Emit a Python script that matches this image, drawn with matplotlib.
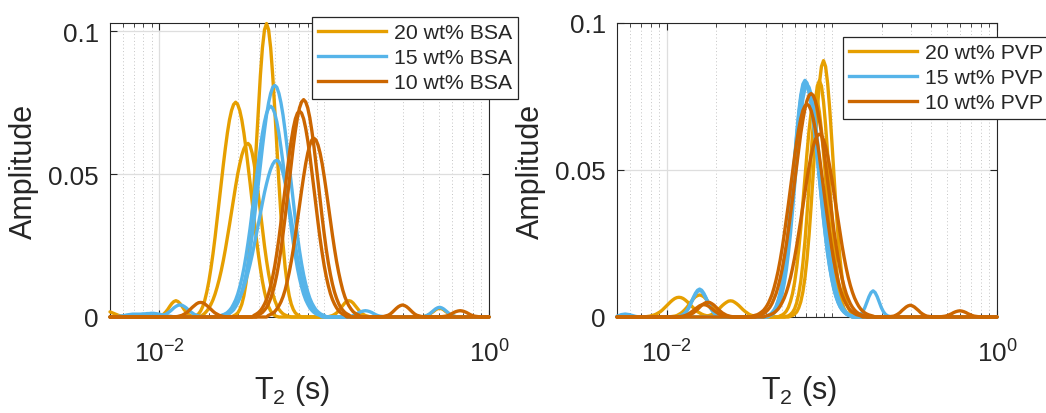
import numpy as np
import matplotlib
matplotlib.use("Agg")
import matplotlib.pyplot as plt
from matplotlib.lines import Line2D
from matplotlib.ticker import LogLocator, NullFormatter, FixedLocator

plt.rcParams['font.family'] = ['Liberation Sans', 'DejaVu Sans']
plt.rcParams['mathtext.fontset'] = 'custom'
plt.rcParams['mathtext.rm'] = 'Liberation Sans'
plt.rcParams['mathtext.it'] = 'Liberation Sans:italic'
plt.rcParams['mathtext.bf'] = 'Liberation Sans:bold'

# ---------------- data ----------------
N_POINTS = 185
T2 = np.logspace(-2.3, 0, N_POINTS)          # T2 grid (s)

# each curve: list of (start index on T2 grid, amplitudes); elsewhere 0
bsa20_1 = [(0, [0.0018, 0.0015, 0.0012, 0.0009, 0.0006, 0.0004, 0.0002, 0.0001]),
           (60, [0.0004, 0.0008, 0.0014, 0.0026, 0.0045, 0.0074, 0.0117, 0.0176, 0.0255, 0.0354, 0.0470,
                 0.0596, 0.0725, 0.0844, 0.0941, 0.1004, 0.1026, 0.1004, 0.0941, 0.0844, 0.0725, 0.0596,
                 0.0470, 0.0354, 0.0255, 0.0176, 0.0117, 0.0074, 0.0045, 0.0026, 0.0014, 0.0008, 0.0004]),
           (152, [0.0001, 0.0003, 0.0005, 0.0009, 0.0014, 0.0019, 0.0025, 0.0029, 0.0030, 0.0029, 0.0025,
                  0.0019, 0.0014, 0.0009, 0.0005, 0.0003, 0.0001])]
bsa20_2 = [(23, [0.0001, 0.0003, 0.0005, 0.0010, 0.0017, 0.0026, 0.0037, 0.0047, 0.0054, 0.0057, 0.0054,
                 0.0047, 0.0037, 0.0026, 0.0017, 0.0010, 0.0005, 0.0003, 0.0001]),
           (41, [0.0002, 0.0005, 0.0011, 0.0021, 0.0036, 0.0058, 0.0088, 0.0125, 0.0170, 0.0221, 0.0278,
                 0.0340, 0.0404, 0.0469, 0.0531, 0.0590, 0.0644, 0.0689, 0.0722, 0.0743, 0.0751, 0.0743,
                 0.0722, 0.0689, 0.0644, 0.0590, 0.0531, 0.0469, 0.0404, 0.0340, 0.0278, 0.0221, 0.0170,
                 0.0125, 0.0088, 0.0058, 0.0036, 0.0021, 0.0011, 0.0005, 0.0002])]
bsa20_3 = [(44, [0.0003, 0.0007, 0.0013, 0.0021, 0.0031, 0.0044, 0.0060, 0.0080, 0.0104, 0.0131, 0.0162,
                 0.0197, 0.0236, 0.0278, 0.0322, 0.0368, 0.0414, 0.0458, 0.0500, 0.0535, 0.0566, 0.0588,
                 0.0602, 0.0607, 0.0599, 0.0574, 0.0535, 0.0486, 0.0429, 0.0368, 0.0307, 0.0249, 0.0197,
                 0.0151, 0.0114, 0.0082, 0.0058, 0.0040, 0.0027, 0.0018, 0.0011, 0.0007, 0.0004, 0.0002]),
           (106, [0.0001, 0.0003, 0.0005, 0.0009, 0.0014, 0.0022, 0.0031, 0.0040, 0.0049, 0.0055, 0.0057,
                  0.0055, 0.0049, 0.0040, 0.0031, 0.0022, 0.0014, 0.0009, 0.0005, 0.0003, 0.0001])]

bsa15_1 = [(23, [0.0001, 0.0002, 0.0003, 0.0006, 0.0009, 0.0014, 0.0019, 0.0025, 0.0032, 0.0037, 0.0041,
                 0.0042, 0.0041, 0.0037, 0.0032, 0.0025, 0.0019, 0.0014, 0.0009, 0.0006, 0.0003, 0.0002,
                 0.0001]),
           (56, [0.0006, 0.0008, 0.0012, 0.0018, 0.0025, 0.0036, 0.0049, 0.0066, 0.0088, 0.0116, 0.0148,
                 0.0187, 0.0232, 0.0284, 0.0341, 0.0402, 0.0466, 0.0530, 0.0593, 0.0652, 0.0706, 0.0749,
                 0.0782, 0.0803, 0.0810, 0.0803, 0.0782, 0.0749, 0.0706, 0.0652, 0.0593, 0.0530, 0.0466,
                 0.0402, 0.0341, 0.0284, 0.0232, 0.0187, 0.0148, 0.0116, 0.0088, 0.0066, 0.0049, 0.0036,
                 0.0025, 0.0018, 0.0012, 0.0008, 0.0006])]
bsa15_2 = [(4, [0.0002, 0.0003, 0.0004, 0.0005, 0.0007, 0.0008, 0.0009, 0.0010, 0.0010, 0.0010, 0.0010,
                0.0010, 0.0011, 0.0011, 0.0012, 0.0012, 0.0013, 0.0013, 0.0012, 0.0011, 0.0010, 0.0008,
                0.0007, 0.0005, 0.0004, 0.0003, 0.0002]),
           (54, [0.0005, 0.0008, 0.0011, 0.0016, 0.0023, 0.0032, 0.0045, 0.0060, 0.0080, 0.0105, 0.0135,
                 0.0170, 0.0212, 0.0259, 0.0310, 0.0366, 0.0424, 0.0482, 0.0539, 0.0593, 0.0642, 0.0682,
                 0.0712, 0.0730, 0.0737, 0.0730, 0.0712, 0.0682, 0.0642, 0.0593, 0.0539, 0.0482, 0.0424,
                 0.0366, 0.0310, 0.0259, 0.0212, 0.0170, 0.0135, 0.0105, 0.0080, 0.0060, 0.0045, 0.0032,
                 0.0023, 0.0016, 0.0011, 0.0008, 0.0005]),
           (115, [0.0001, 0.0002, 0.0003, 0.0005, 0.0008, 0.0012, 0.0016, 0.0019, 0.0021, 0.0022, 0.0021,
                  0.0019, 0.0016, 0.0012, 0.0008, 0.0005, 0.0003, 0.0002, 0.0001])]
bsa15_3 = [(54, [0.0005, 0.0007, 0.0010, 0.0013, 0.0018, 0.0024, 0.0032, 0.0041, 0.0053, 0.0067, 0.0085,
                 0.0105, 0.0128, 0.0155, 0.0184, 0.0216, 0.0251, 0.0287, 0.0325, 0.0363, 0.0399, 0.0435,
                 0.0466, 0.0494, 0.0517, 0.0534, 0.0545, 0.0548, 0.0543, 0.0527, 0.0503, 0.0470, 0.0431,
                 0.0387, 0.0342, 0.0296, 0.0251, 0.0209, 0.0170, 0.0136, 0.0107, 0.0083, 0.0062, 0.0047,
                 0.0034, 0.0024, 0.0017, 0.0012, 0.0008, 0.0005]),
           (152, [0.0001, 0.0003, 0.0006, 0.0010, 0.0016, 0.0022, 0.0028, 0.0032, 0.0034, 0.0032, 0.0028,
                  0.0022, 0.0016, 0.0010, 0.0006, 0.0003, 0.0001])]

bsa10_1 = [(32, [0.0001, 0.0002, 0.0004, 0.0006, 0.0010, 0.0014, 0.0020, 0.0027, 0.0034, 0.0040, 0.0046,
                 0.0050, 0.0051, 0.0050, 0.0046, 0.0040, 0.0034, 0.0027, 0.0020, 0.0014, 0.0010, 0.0006,
                 0.0004, 0.0002, 0.0001]),
           (72, [0.0007, 0.0011, 0.0016, 0.0024, 0.0033, 0.0047, 0.0065, 0.0087, 0.0115, 0.0149, 0.0189,
                 0.0236, 0.0290, 0.0348, 0.0410, 0.0474, 0.0537, 0.0597, 0.0651, 0.0697, 0.0731, 0.0752,
                 0.0760, 0.0752, 0.0731, 0.0697, 0.0651, 0.0597, 0.0537, 0.0474, 0.0410, 0.0348, 0.0290,
                 0.0236, 0.0189, 0.0149, 0.0115, 0.0087, 0.0065, 0.0047, 0.0033, 0.0024, 0.0016, 0.0011,
                 0.0007])]
bsa10_2 = [(70, [0.0006, 0.0010, 0.0015, 0.0022, 0.0032, 0.0045, 0.0061, 0.0082, 0.0109, 0.0141, 0.0179,
                 0.0224, 0.0274, 0.0330, 0.0389, 0.0449, 0.0509, 0.0566, 0.0617, 0.0660, 0.0693, 0.0713,
                 0.0720, 0.0713, 0.0693, 0.0660, 0.0617, 0.0566, 0.0509, 0.0449, 0.0389, 0.0330, 0.0274,
                 0.0224, 0.0179, 0.0141, 0.0109, 0.0082, 0.0061, 0.0045, 0.0032, 0.0022, 0.0015, 0.0010,
                 0.0006]),
           (132, [0.0001, 0.0002, 0.0004, 0.0006, 0.0010, 0.0016, 0.0023, 0.0030, 0.0036, 0.0040, 0.0042,
                  0.0040, 0.0036, 0.0030, 0.0023, 0.0016, 0.0010, 0.0006, 0.0004, 0.0002, 0.0001])]
bsa10_3 = [(77, [0.0006, 0.0009, 0.0013, 0.0019, 0.0028, 0.0039, 0.0053, 0.0071, 0.0094, 0.0123, 0.0156,
                 0.0194, 0.0238, 0.0286, 0.0338, 0.0390, 0.0442, 0.0491, 0.0536, 0.0573, 0.0601, 0.0619,
                 0.0625, 0.0619, 0.0601, 0.0573, 0.0536, 0.0491, 0.0442, 0.0390, 0.0338, 0.0286, 0.0238,
                 0.0194, 0.0156, 0.0123, 0.0094, 0.0071, 0.0053, 0.0039, 0.0028, 0.0019, 0.0013, 0.0009,
                 0.0006]),
           (161, [0.0001, 0.0002, 0.0003, 0.0005, 0.0008, 0.0012, 0.0016, 0.0019, 0.0021, 0.0022, 0.0021,
                  0.0019, 0.0016, 0.0012, 0.0008, 0.0005, 0.0003, 0.0002, 0.0001])]

pvp20_1 = [(14, [0.0001, 0.0002, 0.0003, 0.0005, 0.0007, 0.0010, 0.0014, 0.0018, 0.0024, 0.0031, 0.0038,
                 0.0045, 0.0052, 0.0058, 0.0063, 0.0066, 0.0067, 0.0066, 0.0063, 0.0058, 0.0052, 0.0045,
                 0.0038, 0.0031, 0.0024, 0.0018, 0.0014, 0.0010, 0.0007, 0.0005, 0.0003, 0.0002, 0.0001]),
           (84, [0.0003, 0.0005, 0.0010, 0.0017, 0.0031, 0.0052, 0.0085, 0.0133, 0.0197, 0.0279, 0.0378,
                 0.0487, 0.0602, 0.0707, 0.0794, 0.0852, 0.0872, 0.0852, 0.0794, 0.0707, 0.0602, 0.0487,
                 0.0378, 0.0279, 0.0197, 0.0133, 0.0085, 0.0052, 0.0031, 0.0017, 0.0010, 0.0005, 0.0003])]
pvp20_2 = [(26, [0.0001, 0.0002, 0.0003, 0.0005, 0.0009, 0.0013, 0.0019, 0.0026, 0.0034, 0.0044, 0.0053,
                 0.0062, 0.0069, 0.0073, 0.0075, 0.0073, 0.0069, 0.0062, 0.0053, 0.0044, 0.0034, 0.0026,
                 0.0019, 0.0013, 0.0009, 0.0005, 0.0003, 0.0002, 0.0001]),
           (82, [0.0002, 0.0004, 0.0009, 0.0016, 0.0028, 0.0048, 0.0079, 0.0122, 0.0182, 0.0257, 0.0349,
                 0.0449, 0.0555, 0.0652, 0.0732, 0.0786, 0.0804, 0.0786, 0.0732, 0.0652, 0.0555, 0.0449,
                 0.0349, 0.0257, 0.0182, 0.0122, 0.0079, 0.0048, 0.0028, 0.0016, 0.0009, 0.0004, 0.0002])]
pvp20_3 = [(42, [0.0001, 0.0002, 0.0004, 0.0006, 0.0009, 0.0014, 0.0019, 0.0025, 0.0032, 0.0039, 0.0045,
                 0.0050, 0.0054, 0.0055, 0.0054, 0.0050, 0.0045, 0.0039, 0.0032, 0.0025, 0.0019, 0.0014,
                 0.0009, 0.0006, 0.0004, 0.0002, 0.0001]),
           (79, [0.0004, 0.0007, 0.0012, 0.0020, 0.0033, 0.0053, 0.0080, 0.0118, 0.0168, 0.0230, 0.0303,
                 0.0386, 0.0473, 0.0558, 0.0635, 0.0697, 0.0737, 0.0750, 0.0737, 0.0697, 0.0635, 0.0558,
                 0.0473, 0.0386, 0.0303, 0.0230, 0.0168, 0.0118, 0.0080, 0.0053, 0.0033, 0.0020, 0.0012,
                 0.0007, 0.0004])]

pvp15_1 = [(30, [0.0002, 0.0004, 0.0008, 0.0014, 0.0024, 0.0036, 0.0051, 0.0067, 0.0081, 0.0091, 0.0095,
                 0.0091, 0.0081, 0.0067, 0.0051, 0.0036, 0.0024, 0.0014, 0.0008, 0.0004, 0.0002]),
           (73, [0.0005, 0.0008, 0.0014, 0.0023, 0.0035, 0.0055, 0.0081, 0.0117, 0.0163, 0.0221, 0.0290,
                 0.0369, 0.0453, 0.0540, 0.0624, 0.0697, 0.0755, 0.0792, 0.0805, 0.0796, 0.0771, 0.0730,
                 0.0677, 0.0614, 0.0546, 0.0474, 0.0403, 0.0335, 0.0273, 0.0217, 0.0170, 0.0130, 0.0097,
                 0.0071, 0.0051, 0.0035, 0.0024, 0.0016, 0.0010, 0.0006, 0.0004]),
           (116, [0.0002, 0.0004, 0.0009, 0.0018, 0.0032, 0.0050, 0.0069, 0.0083, 0.0089, 0.0083, 0.0069,
                  0.0050, 0.0032, 0.0018, 0.0009, 0.0004, 0.0002])]
pvp15_2 = [(30, [0.0002, 0.0004, 0.0008, 0.0014, 0.0022, 0.0034, 0.0049, 0.0064, 0.0077, 0.0087, 0.0090,
                 0.0087, 0.0077, 0.0064, 0.0049, 0.0034, 0.0022, 0.0014, 0.0008, 0.0004, 0.0002]),
           (74, [0.0005, 0.0008, 0.0013, 0.0022, 0.0035, 0.0054, 0.0080, 0.0115, 0.0160, 0.0217, 0.0284,
                 0.0362, 0.0445, 0.0530, 0.0612, 0.0684, 0.0741, 0.0777, 0.0790, 0.0781, 0.0757, 0.0717,
                 0.0664, 0.0603, 0.0536, 0.0465, 0.0396, 0.0329, 0.0268, 0.0213, 0.0167, 0.0127, 0.0095,
                 0.0070, 0.0050, 0.0035, 0.0024, 0.0016, 0.0010, 0.0006, 0.0004])]
pvp15_3 = [(0, [0.0003, 0.0005, 0.0008, 0.0009, 0.0010, 0.0009, 0.0008, 0.0006, 0.0004, 0.0002, 0.0001]),
           (73, [0.0005, 0.0008, 0.0014, 0.0022, 0.0035, 0.0054, 0.0080, 0.0115, 0.0161, 0.0219, 0.0286,
                 0.0364, 0.0448, 0.0533, 0.0616, 0.0688, 0.0746, 0.0782, 0.0795, 0.0786, 0.0762, 0.0721,
                 0.0669, 0.0607, 0.0539, 0.0468, 0.0398, 0.0331, 0.0270, 0.0215, 0.0168, 0.0128, 0.0095,
                 0.0070, 0.0050, 0.0035, 0.0024, 0.0016, 0.0010, 0.0006, 0.0004])]

pvp10_1 = [(32, [0.0001, 0.0002, 0.0004, 0.0006, 0.0010, 0.0014, 0.0020, 0.0026, 0.0033, 0.0040, 0.0045,
                 0.0049, 0.0050, 0.0049, 0.0045, 0.0040, 0.0033, 0.0026, 0.0020, 0.0014, 0.0010, 0.0006,
                 0.0004, 0.0002, 0.0001]),
           (68, [0.0004, 0.0006, 0.0008, 0.0012, 0.0017, 0.0024, 0.0033, 0.0045, 0.0061, 0.0079, 0.0103,
                 0.0131, 0.0164, 0.0203, 0.0247, 0.0296, 0.0348, 0.0404, 0.0461, 0.0518, 0.0574, 0.0625,
                 0.0670, 0.0708, 0.0736, 0.0754, 0.0760, 0.0754, 0.0736, 0.0708, 0.0670, 0.0625, 0.0574,
                 0.0518, 0.0461, 0.0404, 0.0348, 0.0296, 0.0247, 0.0203, 0.0164, 0.0131, 0.0103, 0.0079,
                 0.0061, 0.0045, 0.0033, 0.0024, 0.0017, 0.0012, 0.0008, 0.0006, 0.0004])]
pvp10_2 = [(30, [0.0001, 0.0002, 0.0003, 0.0005, 0.0008, 0.0012, 0.0017, 0.0022, 0.0028, 0.0033, 0.0038,
                 0.0041, 0.0042, 0.0041, 0.0038, 0.0033, 0.0028, 0.0022, 0.0017, 0.0012, 0.0008, 0.0005,
                 0.0003, 0.0002, 0.0001]),
           (66, [0.0004, 0.0006, 0.0008, 0.0012, 0.0017, 0.0023, 0.0032, 0.0043, 0.0058, 0.0075, 0.0098,
                 0.0125, 0.0156, 0.0193, 0.0235, 0.0282, 0.0332, 0.0384, 0.0439, 0.0494, 0.0547, 0.0596,
                 0.0639, 0.0675, 0.0702, 0.0718, 0.0724, 0.0718, 0.0702, 0.0675, 0.0639, 0.0596, 0.0547,
                 0.0494, 0.0439, 0.0384, 0.0332, 0.0282, 0.0235, 0.0193, 0.0156, 0.0125, 0.0098, 0.0075,
                 0.0058, 0.0043, 0.0032, 0.0023, 0.0017, 0.0012, 0.0008, 0.0006, 0.0004]),
           (132, [0.0001, 0.0002, 0.0003, 0.0006, 0.0010, 0.0015, 0.0022, 0.0028, 0.0034, 0.0038, 0.0040,
                  0.0038, 0.0034, 0.0028, 0.0022, 0.0015, 0.0010, 0.0006, 0.0003, 0.0002, 0.0001])]
pvp10_3 = [(72, [0.0003, 0.0005, 0.0007, 0.0010, 0.0014, 0.0020, 0.0027, 0.0037, 0.0050, 0.0065, 0.0084,
                 0.0107, 0.0134, 0.0166, 0.0202, 0.0242, 0.0285, 0.0330, 0.0378, 0.0424, 0.0470, 0.0512,
                 0.0549, 0.0580, 0.0603, 0.0617, 0.0622, 0.0617, 0.0603, 0.0580, 0.0549, 0.0512, 0.0470,
                 0.0424, 0.0378, 0.0330, 0.0285, 0.0242, 0.0202, 0.0166, 0.0134, 0.0107, 0.0084, 0.0065,
                 0.0050, 0.0037, 0.0027, 0.0020, 0.0014, 0.0010, 0.0007, 0.0005, 0.0003]),
           (157, [0.0001, 0.0002, 0.0003, 0.0005, 0.0008, 0.0011, 0.0015, 0.0018, 0.0020, 0.0021, 0.0020,
                  0.0018, 0.0015, 0.0011, 0.0008, 0.0005, 0.0003, 0.0002, 0.0001])]

labels_bsa = ['20 wt% BSA', '15 wt% BSA', '10 wt% BSA']
labels_pvp = ['20 wt% PVP', '15 wt% PVP', '10 wt% PVP']
colors = ['#E69F00', '#56B4E9', '#CC6600']
y_ticks = [0, 0.05, 0.1]
y_ticklabels = ['0', '0.05', '0.1']
x_ticks = [1e-2, 1e0]
x_ticklabels = [r'$10^{-2}$', r'$10^{0}$']


def build(segments):
    y = np.zeros(N_POINTS)
    for start, vals in segments:
        y[start:start + len(vals)] += np.asarray(vals)
    return y


groups_left = [[bsa20_1, bsa20_2, bsa20_3], [bsa15_1, bsa15_2, bsa15_3], [bsa10_1, bsa10_2, bsa10_3]]
groups_right = [[pvp20_1, pvp20_2, pvp20_3], [pvp15_1, pvp15_2, pvp15_3], [pvp10_1, pvp10_2, pvp10_3]]

W, H = 1046, 414
fig = plt.figure(figsize=(W / 100, H / 100), dpi=100)
axL = fig.add_axes([110 / W, 96 / H, 379 / W, 294 / H])
axR = fig.add_axes([617 / W, 96 / H, 380 / W, 294 / H])

AX_COLOR = '#262626'


def style(ax, groups, labels, ytop, legend_xy):
    for grp, col in zip(groups, colors):
        for seg in grp:
            ax.plot(T2, build(seg), color=col, lw=2.4, clip_on=False, zorder=3,
                    solid_joinstyle='round', solid_capstyle='round')
    ax.set_xscale('log')
    ax.set_xlim(T2[0], T2[-1])
    ax.set_ylim(0, ytop)
    ax.xaxis.set_major_locator(FixedLocator(x_ticks))
    ax.set_xticklabels(x_ticklabels)
    ax.xaxis.set_minor_locator(LogLocator(base=10, subs=np.arange(1, 10), numticks=30))
    ax.xaxis.set_minor_formatter(NullFormatter())
    ax.set_yticks(y_ticks)
    ax.set_yticklabels(y_ticklabels)
    ax.set_axisbelow(True)
    ax.grid(True, which='major', color='#dedede', lw=0.9, ls='-')
    ax.grid(True, which='minor', axis='x', color='#c4c4c4', lw=0.7, ls=(0, (1, 2.5)))
    ax.tick_params(which='both', direction='in', top=True, right=True,
                   color=AX_COLOR, labelcolor=AX_COLOR, labelsize=18.7)
    ax.tick_params(which='major', length=5, width=0.8)
    ax.tick_params(which='minor', length=3, width=0.6)
    ax.tick_params(axis='x', which='major', pad=16)
    ax.tick_params(axis='y', which='major', pad=8)
    for sp in ax.spines.values():
        sp.set_color(AX_COLOR)
        sp.set_linewidth(0.8)
    ax.set_ylabel('Amplitude', fontsize=22, color=AX_COLOR)
    ax.yaxis.set_label_coords(-0.188, 0.5)
    ax.set_xlabel(r'T$_2$ (s)', fontsize=22, color=AX_COLOR)
    ax.xaxis.set_label_coords(0.48, -0.19)
    handles = [Line2D([0], [0], color=c, lw=2.4) for c in colors]
    leg = ax.legend(handles, labels, loc='upper left',
                    bbox_to_anchor=(legend_xy[0] / W, 1 - legend_xy[1] / H),
                    bbox_transform=fig.transFigure, borderaxespad=0, fontsize=15.3,
                    frameon=True, fancybox=False, edgecolor=AX_COLOR, framealpha=1,
                    handlelength=3.2, handletextpad=0.35, labelspacing=0.28, borderpad=0.3)
    leg.get_frame().set_linewidth(0.9)
    for t in leg.get_texts():
        t.set_color(AX_COLOR)


style(axL, groups_left, labels_bsa, 0.1028, (312, 18))
style(axR, groups_right, labels_pvp, 0.1, (843, 38))

fig.savefig('out.png', dpi=100)
